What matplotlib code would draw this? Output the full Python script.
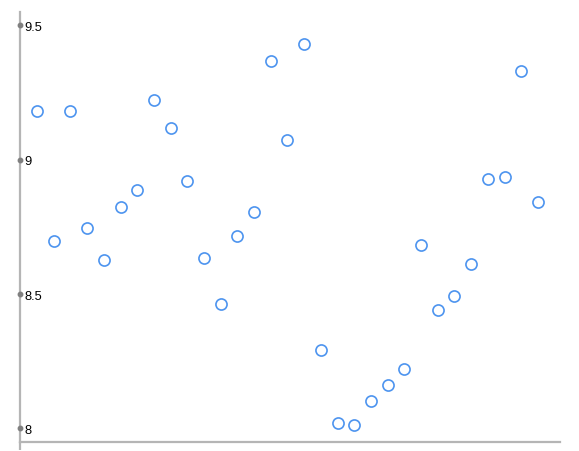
import numpy as np
import matplotlib
matplotlib.use("Agg")
import matplotlib.pyplot as plt

matplotlib.rcParams.update({'font.family': 'Liberation Sans', 'font.size': 9})

# values, one point per step
values = [9.180, 8.698, 9.180, 8.746, 8.627, 8.825, 8.888, 9.222, 9.120, 8.920,
          8.636, 8.462, 8.716, 8.806, 9.369, 9.073, 9.431, 8.291, 8.020, 8.013,
          8.100, 8.160, 8.220, 8.683, 8.440, 8.492, 8.612, 8.930, 8.937, 9.330,
          8.843]
y_ticks = [8, 8.5, 9, 9.5]
y_tick_labels = ["8", "8.5", "9", "9.5"]

W, H = 579, 452
fig = plt.figure(figsize=(W / 100, H / 100), dpi=100)
# axes box in pixels: left 20, right 560, top 12.5, bottom 443
ax = fig.add_axes([20 / W, (H - 443) / H, 540 / W, 430.5 / H])

x = np.arange(len(values))
ax.plot(x, values, linestyle='none', marker='o', markersize=8.0,
        markerfacecolor='white', markeredgecolor='#4d94ef', markeredgewidth=1.2,
        clip_on=False, zorder=3)

ax.set_xlim(-1.02, 31.32)
ax.set_ylim(7.949, 9.552)

axis_grey = '#b5b5b5'
for side in ['top', 'right']:
    ax.spines[side].set_visible(False)
ax.spines['left'].set_color(axis_grey)
ax.spines['bottom'].set_color(axis_grey)
ax.spines['left'].set_linewidth(1.6)
ax.spines['bottom'].set_linewidth(1.6)
# left axis runs a little below the bottom axis
ax.plot([0, 0], [0, -8 / 430], transform=ax.transAxes, color=axis_grey,
        linewidth=1.6, clip_on=False, solid_capstyle='butt')

ax.set_xticks([])
ax.set_yticks(y_ticks)
ax.set_yticklabels(y_tick_labels)
ax.tick_params(axis='y', length=0, pad=-3.5, labelcolor='black', labelsize=9.3)
for lab in ax.get_yticklabels():
    lab.set_horizontalalignment('left')

# grey dots on the axis at each tick
ax.plot(np.full(len(y_ticks), -1.02), y_ticks, linestyle='none', marker='o',
        markersize=3.2, color='#808080', clip_on=False, zorder=4)

fig.savefig("out.png", dpi=100)
